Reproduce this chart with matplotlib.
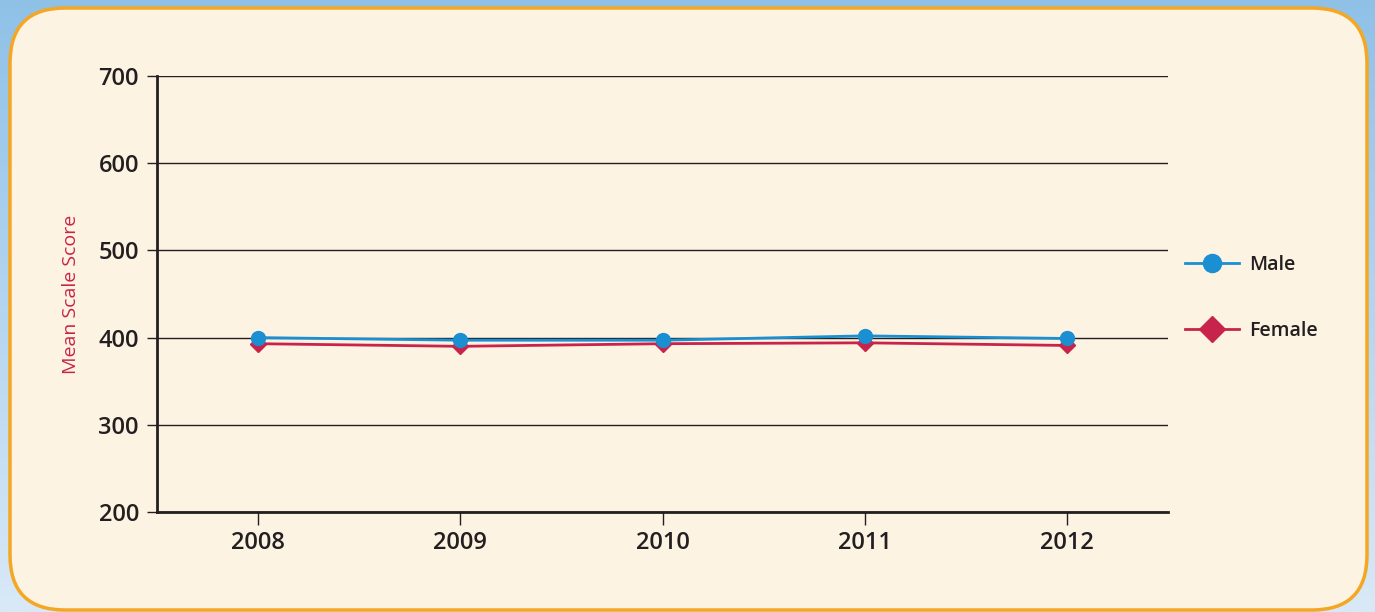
import numpy as np
import matplotlib
matplotlib.use("Agg")
import matplotlib.pyplot as plt
from matplotlib.patches import FancyBboxPatch
from matplotlib.lines import Line2D

years = [2008, 2009, 2010, 2011, 2012]
male = [400, 397, 397, 402, 399]
female = [393, 390, 393, 394, 391]
y_ticks = [200, 300, 400, 500, 600, 700]

MALE_C = "#1a8fd1"
FEMALE_C = "#c8234a"
INK = "#231f20"

plt.rcParams["font.family"] = ["Open Sans", "DejaVu Sans"]

fig = plt.figure(figsize=(13.75, 6.12), dpi=100)

# blue gradient backdrop
bg = fig.add_axes([0, 0, 1, 1])
grad = np.linspace(0, 1, 256).reshape(-1, 1)
cmap = matplotlib.colors.LinearSegmentedColormap.from_list("bg", ["#8fc1e7", "#d9e9f7"])
bg.imshow(grad, aspect="auto", cmap=cmap, extent=[0, 1, 0, 1], origin="upper")
bg.set_xlim(0, 1)
bg.set_ylim(0, 1)
bg.axis("off")

# rounded cream panel
W, H = 1375, 612
panel = FancyBboxPatch((10 / W, 2 / H), 1357 / W, 602 / H,
                       boxstyle="round,pad=0,rounding_size=0.04",
                       mutation_aspect=W / H,
                       facecolor="#fdf3e3", edgecolor="#f5a623", linewidth=2.5,
                       transform=fig.transFigure)
bg.add_patch(panel)

ax = fig.add_axes([157 / W, 1 - 512 / H, (1168 - 157) / W, (512 - 76) / H])
ax.set_facecolor("none")

ax.plot(years, female, color=FEMALE_C, lw=2, marker="D", ms=8, zorder=3)
ax.plot(years, male, color=MALE_C, lw=2, marker="o", ms=10, zorder=4)

ax.set_xlim(2007.5, 2012.5)
ax.set_ylim(200, 700)
ax.set_yticks(y_ticks)
ax.set_xticks(years)
ax.grid(axis="y", color=INK, lw=1)
ax.set_axisbelow(True)

for s in ["top", "right"]:
    ax.spines[s].set_visible(False)
for s in ["left", "bottom"]:
    ax.spines[s].set_color(INK)
    ax.spines[s].set_linewidth(2)

ax.tick_params(axis="y", length=7, width=1, color=INK, labelsize=17, labelcolor=INK, pad=6)
ax.tick_params(axis="x", length=9, width=1, color=INK, labelsize=17, labelcolor=INK, pad=5)
for lab in ax.get_xticklabels() + ax.get_yticklabels():
    lab.set_fontweight("semibold")

ax.set_ylabel("Mean Scale Score", color=FEMALE_C, fontsize=14, labelpad=13)

handles = [
    Line2D([], [], color=MALE_C, lw=2, marker="o", ms=13),
    Line2D([], [], color=FEMALE_C, lw=2, marker="D", ms=13),
]
leg = ax.legend(handles, ["Male", "Female"], loc="upper left",
                bbox_to_anchor=(1010 / (1168 - 157), (512 - 237) / (512 - 76)),
                frameon=False, handlelength=2.8, labelspacing=2.4,
                fontsize=14, handletextpad=0.5)
for t in leg.get_texts():
    t.set_color(INK)
    t.set_fontweight("semibold")

fig.savefig("out.png", dpi=100)
